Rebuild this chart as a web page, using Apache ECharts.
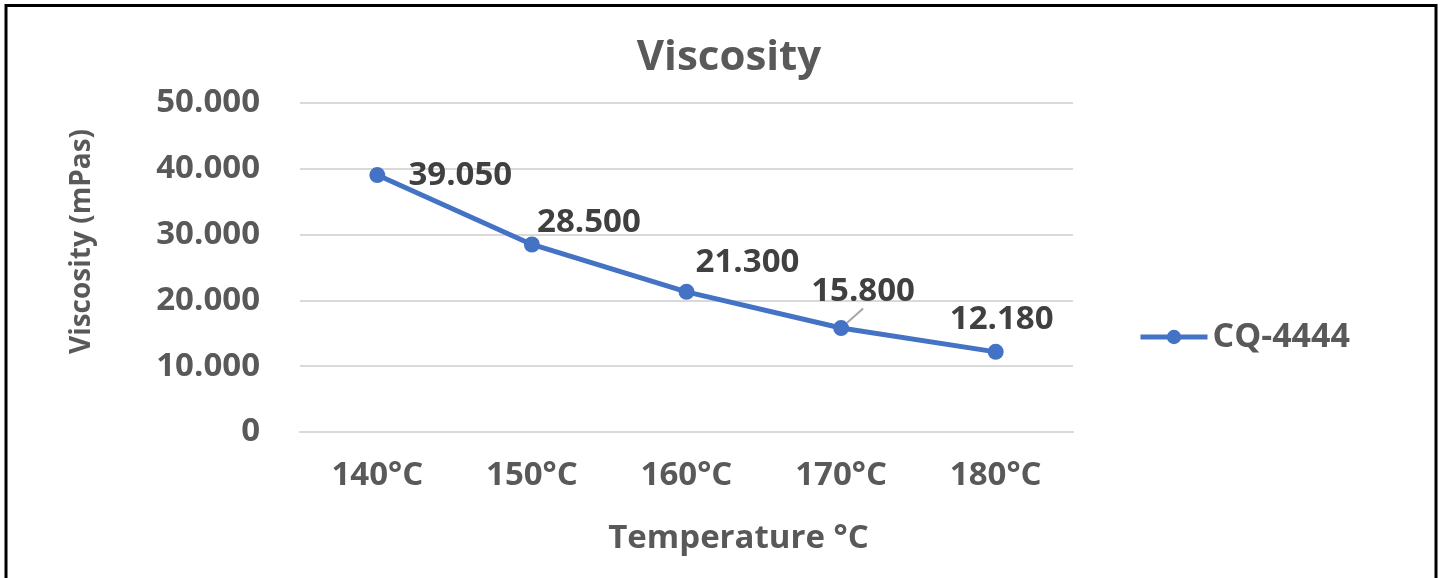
<html>
<head>
    <meta charset="utf-8">
    <title>Viscosity</title>
    <script src="https://cdn.jsdelivr.net/npm/echarts@6/dist/echarts.min.js"></script>
    <style>
        body { margin: 0; background: white; }
        #main { width: 1445px; height: 578px; }
    </style>
</head>
<body>
    <div id="main"></div>
    <script>
        // data
        var temps = ['140°C', '150°C', '160°C', '170°C', '180°C']
        var viscosity = [39.05, 28.5, 21.3, 15.8, 12.18]
        var seriesName = 'CQ-4444'

        // where each value label sits, relative to its point
        var labelShift = [[83, 1], [57, -22], [61, -29], [22, -36], [6, -32]]

        var FONT = 'Open Sans'
        var GREY = '#595959'

        var chart = echarts.init(document.getElementById('main'))
        var options = {
            backgroundColor: 'white',
            animation: false,
            title: {
                text: 'Viscosity',
                left: 724, top: 32, textAlign: 'center',
                textStyle: { fontFamily: FONT, fontWeight: 'bold', fontSize: 42, color: GREY }
            },
            legend: {
                left: 1133, top: 315,
                itemWidth: 67, itemHeight: 18, itemGap: 10,
                lineStyle: { width: 5 },
                textStyle: { fontFamily: FONT, fontWeight: 'bold', fontSize: 34, color: GREY },
                data: [seriesName]
            },
            grid: { left: 300, right: 372, top: 103, bottom: 146 },
            xAxis: {
                type: 'category',
                data: temps,
                name: 'Temperature °C',
                nameLocation: 'middle',
                nameGap: 90,
                nameTextStyle: {
                    fontFamily: FONT, fontWeight: 'bold', fontSize: 33, color: GREY,
                    padding: [0, 0, 0, 104]
                },
                axisLine: { lineStyle: { color: '#d9d9d9', width: 2 } },
                axisTick: { show: false },
                axisLabel: { fontFamily: FONT, fontWeight: 'bold', fontSize: 33, color: GREY, margin: 27 }
            },
            yAxis: {
                type: 'value',
                min: 0, max: 50, interval: 10,
                name: 'Viscosity (mPas)',
                nameLocation: 'middle',
                nameGap: 204,
                nameTextStyle: {
                    fontFamily: FONT, fontWeight: 'bold', fontSize: 28, color: GREY,
                    padding: [0, 0, 0, 52]
                },
                splitLine: { lineStyle: { color: '#d9d9d9', width: 2 } },
                axisLabel: {
                    fontFamily: FONT, fontWeight: 'bold', fontSize: 33, color: GREY, margin: 40,
                    formatter: v => v == 0 ? '0' : v.toFixed(3)
                }
            },
            graphic: [{
                type: 'rect',
                shape: { x: 6, y: 5.5, width: 1430, height: 600 },
                style: { fill: 'none', stroke: '#000', lineWidth: 3 }
            }],
            series: [{
                name: seriesName,
                type: 'line',
                color: '#4472c4',
                symbol: 'circle',
                symbolSize: 16,
                lineStyle: { width: 5 },
                data: viscosity.map((v, i) => i == 3 ? { value: v, labelLine: { show: true } } : v),
                label: {
                    show: true,
                    position: 'inside',
                    fontFamily: FONT, fontWeight: 'bold', fontSize: 33, color: '#404040',
                    formatter: p => p.value.toFixed(3)
                },
                labelLine: { show: false, lineStyle: { color: '#a6a6a6', width: 2 } },
                labelLayout: p => ({ dx: labelShift[p.dataIndex][0], dy: labelShift[p.dataIndex][1] })
            }]
        }
        chart.setOption(options)
    </script>
</body>
</html>
